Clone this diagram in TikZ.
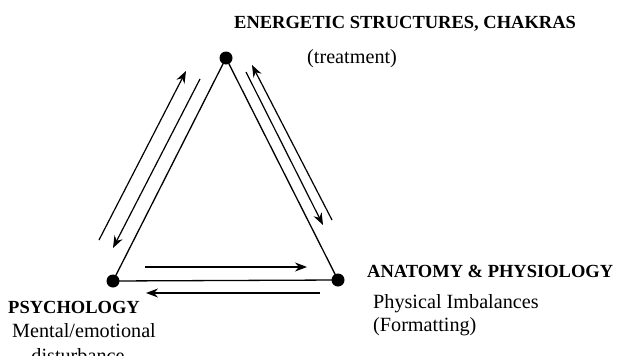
\documentclass[tikz,border=0pt]{standalone}
\usepackage{fontspec}
\setmainfont{Liberation Serif}
\usetikzlibrary{arrows.meta}
\begin{document}
\begin{tikzpicture}[x=1pt,y=-1pt,
  vert/.style={circle,fill=black,inner sep=0pt,minimum size=13pt},
  edge/.style={line width=1.3pt},
  arr/.style={line width=1.2pt,-{Stealth[length=12pt,width=9pt]}},
  bold/.style={font=\fontsize{18.5}{21}\selectfont\bfseries,inner sep=0pt},
  reg/.style={font=\fontsize{20.2}{23}\selectfont,inner sep=0pt}]
\useasboundingbox (0,0) rectangle (624,356);
\clip (0,0) rectangle (624,356);
% vertices
\node[vert] (T) at (226,58) {};
\node[vert] (L) at (113,281) {};
\node[vert] (R) at (338,280) {};
% edges
\draw[edge] (T.center) -- (L.center);
\draw[edge] (T.center) -- (R.center);
\draw[edge] (L.center) -- (R.center);
% arrow end points
\coordinate (l1s) at (99,240);
\coordinate (l1e) at (186,71);
\coordinate (l2s) at (200,79);
\coordinate (l2e) at (113,248);
\coordinate (r1s) at (246,72);
\coordinate (r1e) at (323,225);
\coordinate (r2s) at (332,220);
\coordinate (r2e) at (252,65);
\coordinate (b1s) at (145,267);
\coordinate (b1e) at (307,267);
\coordinate (b2s) at (320,293);
\coordinate (b2e) at (146,293);
\draw[arr] (l1s) -- (l1e);
\draw[arr] (l2s) -- (l2e);
\draw[arr] (r1s) -- (r1e);
\draw[arr] (r2s) -- (r2e);
\draw[arr] (b1s) -- (b1e);
\draw[arr] (b2s) -- (b2e);
% labels
\node[bold,anchor=base west] (tl) at (234,28) {ENERGETIC STRUCTURES, CHAKRAS};
\node[reg,anchor=base west] (tt) at (307,63) {(treatment)};
\node[bold,anchor=base west] (rl) at (367,277) {ANATOMY \& PHYSIOLOGY};
\node[reg,anchor=base west] (r1) at (373,308) {Physical Imbalances};
\node[reg,anchor=base west] (r2) at (373,331) {(Formatting)};
\node[bold,anchor=base west] (ll) at (8,313) {PSYCHOLOGY};
\node[reg,anchor=base west] (l1) at (12,337) {Mental/emotional};
\node[reg,anchor=base] (l2) at (78,362) {disturbance};
\end{tikzpicture}
\end{document}
